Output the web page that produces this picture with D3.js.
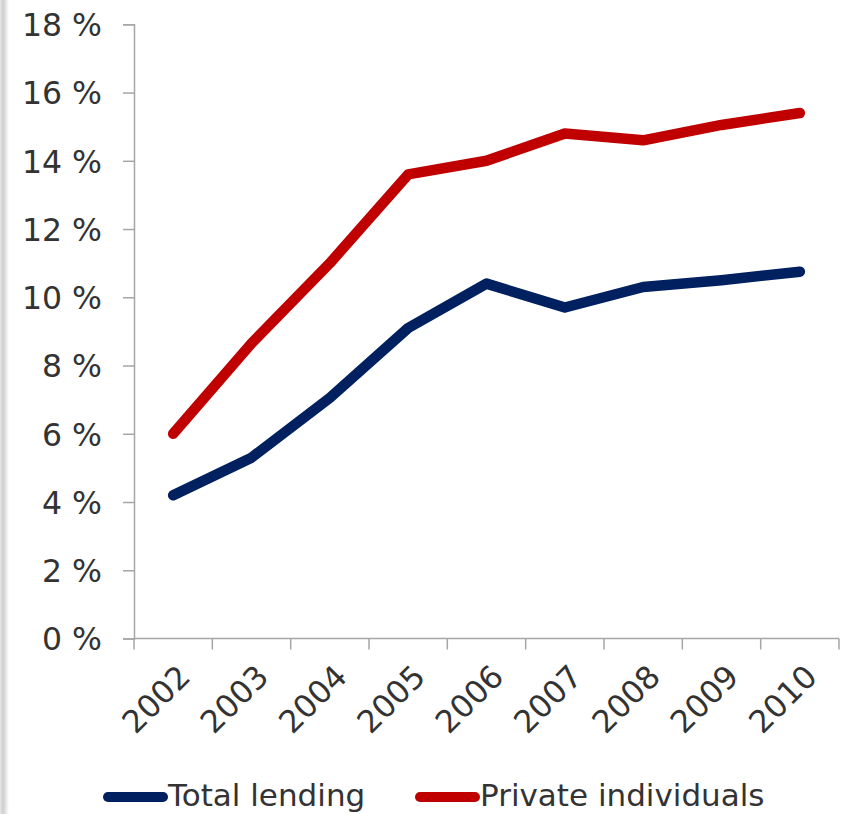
<!DOCTYPE html>
<html>
<head>
<meta charset="utf-8">
<script src="https://cdn.jsdelivr.net/npm/d3@7"></script>
<style>
  html, body { margin: 0; padding: 0; background: #fff; }
  svg { display: block; }
</style>
</head>
<body>
<svg id="chart" width="848" height="814"></svg>
<script>
// Lending growth by year (percent)
const years = ["2002", "2003", "2004", "2005", "2006", "2007", "2008", "2009", "2010"];
const totalLending = [4.2, 5.3, 7.05, 9.1, 10.4, 9.7, 10.3, 10.5, 10.75];
const privateIndividuals = [6.0, 8.65, 11.0, 13.6, 14.0, 14.8, 14.6, 15.05, 15.4];
const yTicks = [0, 2, 4, 6, 8, 10, 12, 14, 16, 18];
const seriesNames = ["Total lending", "Private individuals"];
const seriesColors = ["#002060", "#C00000"];

const svg = d3.select("#chart");
const font = "DejaVu Sans, Verdana, sans-serif";
const axisColor = "#a6a6a6";
const textColor = "#333333";

// soft shaded strip along the left edge
const defs = svg.append("defs");
const grad = defs.append("linearGradient").attr("id", "edge").attr("x1", "0").attr("x2", "1");
grad.append("stop").attr("offset", "0").attr("stop-color", "#e6e6e6");
grad.append("stop").attr("offset", "0.35").attr("stop-color", "#cfcfcf");
grad.append("stop").attr("offset", "1").attr("stop-color", "#ffffff");
svg.append("rect").attr("x", 0).attr("y", 0).attr("width", 9).attr("height", 814).attr("fill", "url(#edge)");

const plot = { left: 134, right: 839, top: 24.3, bottom: 638.5 };

const x = d3.scaleBand().domain(years).range([plot.left, plot.right]).padding(0);
const y = d3.scaleLinear().domain([0, 18]).range([plot.bottom, plot.top]);

// y axis
const yAxis = d3.axisLeft(y).tickValues(yTicks).tickSize(11).tickPadding(21)
  .tickFormat(d => d + " %");
const gy = svg.append("g").attr("transform", `translate(${plot.left},0)`).call(yAxis);
gy.select(".domain").attr("stroke", axisColor).attr("stroke-width", 1.5);
gy.selectAll(".tick line").attr("stroke", axisColor).attr("stroke-width", 1.5);
gy.selectAll(".tick text").attr("font-family", font).attr("font-size", 31.5)
  .attr("fill", textColor).attr("dy", "0.36em");

// x axis with boundary ticks between categories
const gx = svg.append("g").attr("transform", `translate(0,${plot.bottom})`);
gx.append("line").attr("x1", plot.left).attr("x2", plot.right).attr("stroke", axisColor).attr("stroke-width", 1.5);
const bounds = years.map(d => x(d)).concat([x(years[years.length - 1]) + x.bandwidth()]);
gx.selectAll("line.tk").data(bounds).join("line").attr("class", "tk")
  .attr("x1", d => d).attr("x2", d => d).attr("y1", 0).attr("y2", 11)
  .attr("stroke", axisColor).attr("stroke-width", 1.5);
gx.selectAll("text").data(years).join("text")
  .attr("transform", d => `translate(${x(d) + x.bandwidth() / 2 + 19},${40}) rotate(-45)`)
  .attr("text-anchor", "end")
  .attr("font-family", font).attr("font-size", 31.5).attr("fill", textColor)
  .text(d => d);

// series lines
const line = d3.line().x((d, i) => x(years[i]) + x.bandwidth() / 2).y(d => y(d));
[totalLending, privateIndividuals].forEach((vals, k) => {
  svg.append("path").datum(vals).attr("d", line)
    .attr("fill", "none").attr("stroke", seriesColors[k]).attr("stroke-width", 10.5)
    .attr("stroke-linejoin", "round").attr("stroke-linecap", "round");
});

// legend
const legendX = [108, 420];
const lg = svg.append("g");
seriesNames.forEach((name, k) => {
  lg.append("line").attr("x1", legendX[k]).attr("x2", legendX[k] + 55)
    .attr("y1", 797).attr("y2", 797)
    .attr("stroke", seriesColors[k]).attr("stroke-width", 10).attr("stroke-linecap", "round");
  lg.append("text").attr("x", legendX[k] + 60).attr("y", 806)
    .attr("font-family", font).attr("font-size", 31).attr("fill", textColor)
    .text(name);
});
</script>
</body>
</html>
